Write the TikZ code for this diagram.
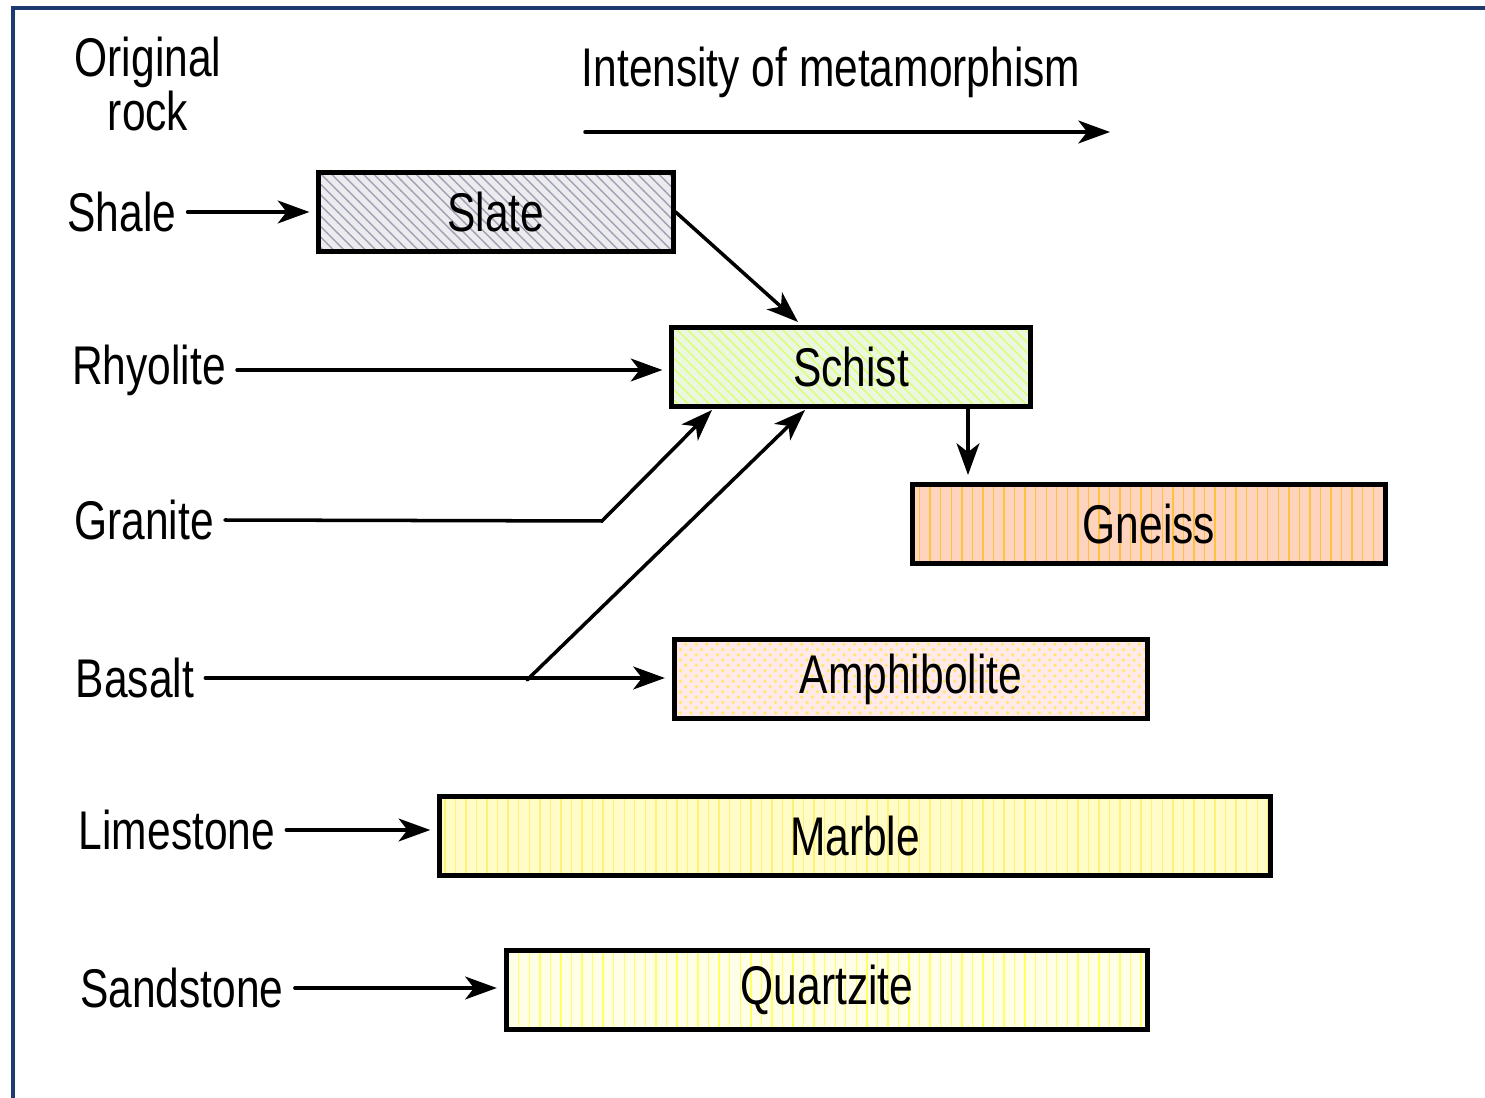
\documentclass[tikz,border=0pt]{standalone}
\usepackage{fontspec}
\setmainfont{Liberation Sans}[FakeStretch=0.78]
\usetikzlibrary{arrows.meta, patterns}

\begin{document}
\begin{tikzpicture}[
            x=0.01cm, y=-0.01cm,
            >={Stealth[length=9pt, width=6.5pt, inset=2.5pt]},
            line cap=round,
            rock box/.style={draw=black, line width=1.4pt, inner sep=0pt,
                minimum height=0.79cm, font=\fontsize{15.5}{18}\selectfont},
            rock fill/.style 2 args={preaction={fill=#1}, pattern=#2},
            rock label/.style={font=\fontsize{15.5}{18}\selectfont, inner sep=2pt},
            flow arrow/.style={->, line width=1pt, shorten >=2pt, shorten <=1pt},
        ]
        \useasboundingbox (0,0) rectangle (1485,1098);
        \definecolor{frameblue}{HTML}{1F3A70}
        \draw[frameblue, line width=1.1pt, line cap=butt] (13,1098) -- (13,8) -- (1485,8);

        % headings
        \node[rock label, align=center, font=\fontsize{15.5}{14}\selectfont] (orig) at (148,84) {Original\\rock};
        \node[rock label] (intensity) at (831,72) {Intensity of metamorphism};
        \coordinate (ia) at (585,132);
        \coordinate (ib) at (1110,132);
        \draw[flow arrow, shorten >=0pt, shorten <=0pt] (ia) -- (ib);

        % metamorphic rocks
        \node[rock box, minimum width=3.54cm, rock fill={blue!8!gray!14}{north west lines},
            pattern color={blue!12!gray!65}] (slate) at (496,212) {Slate};
        \node[rock box, minimum width=3.58cm, rock fill={yellow!35!green!12!white}{north west lines},
            pattern color={yellow!75!green!55}] (schist) at (851,367) {Schist};
        \node[rock box, minimum width=4.72cm, rock fill={orange!35!pink!50}{vertical lines},
            pattern color={orange!65!yellow!75}] (gneiss) at (1149,524) {Gneiss};
        \node[rock box, minimum width=4.73cm, rock fill={pink!35!white}{crosshatch dots},
            pattern color={yellow!70!orange!60}] (amphibolite) at (911,679) {Amphibolite};
        \node[rock box, minimum width=8.30cm, rock fill={yellow!22!white}{vertical lines},
            pattern color={yellow!80!orange!55}] (marble) at (855,836) {Marble};
        \node[rock box, minimum width=6.41cm, rock fill={yellow!10!white}{vertical lines},
            pattern color={yellow!60}] (quartzite) at (827,990) {Quartzite};

        % original rocks
        \node[rock label] (shale) at (122,212) {Shale};
        \node[rock label] (rhyolite) at (149,370) {Rhyolite};
        \node[rock label] (granite) at (144,520) {Granite};
        \node[rock label] (basalt) at (135,678) {Basalt};
        \node[rock label] (limestone) at (177,830) {Limestone};
        \node[rock label] (sandstone) at (182,988) {Sandstone};

        \coordinate (gbend) at (602,521);
        \coordinate (gtip) at (712,410);
        \coordinate (bfork) at (527,680);
        \coordinate (btip) at (805,410);
        \coordinate (stip) at (798,322);
        \coordinate (ntop) at (968,407);

        \draw[flow arrow] (shale) -- (slate);
        \draw[flow arrow] (rhyolite) -- (rhyolite -| schist.west);
        \draw[flow arrow, shorten >=0pt] (granite.east) -- (gbend) -- (gtip);
        \draw[flow arrow] (basalt) -- (basalt -| amphibolite.west);
        \draw[flow arrow, shorten >=0pt, shorten <=0pt] (bfork) -- (btip);
        \draw[flow arrow] (limestone) -- (limestone -| marble.west);
        \draw[flow arrow] (sandstone) -- (sandstone -| quartzite.west);
        \draw[flow arrow, shorten >=0pt, shorten <=0pt] (slate.east) -- (stip);
        \draw[flow arrow, shorten <=0pt] (ntop) -- (ntop |- gneiss.north);
        \end{tikzpicture}
\end{document}
